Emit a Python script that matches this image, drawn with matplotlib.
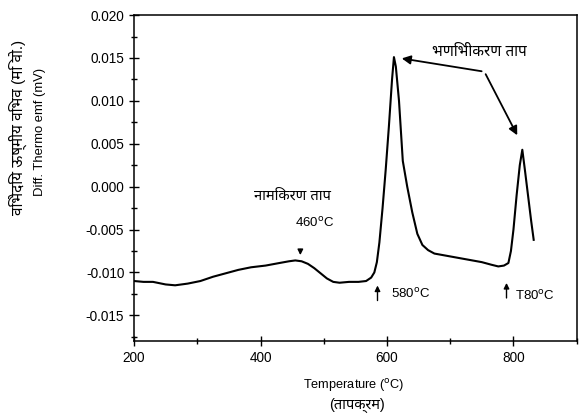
import matplotlib
matplotlib.use("Agg")
import matplotlib.pyplot as plt
from matplotlib.ticker import MultipleLocator

plt.rcParams["font.family"] = ["Liberation Sans", "Noto Sans", "DejaVu Sans"]

# DTA curve
temps = [200, 215, 230, 250, 265, 285, 305, 325, 345, 365, 385, 408, 430, 445,
         455, 465, 475, 485, 495, 505, 515, 525, 540, 555, 567, 575, 580, 584,
         588, 593, 598, 603, 608, 611, 614, 619, 625, 632, 640, 648, 656, 665,
         675, 690, 705, 720, 735, 750, 765, 776, 785, 792, 796, 800, 805, 810,
         814, 818, 823, 828, 832]
emf = [-0.0110, -0.0111, -0.0111, -0.0114, -0.0115, -0.0113, -0.0110, -0.0105,
       -0.0101, -0.0097, -0.0094, -0.0092, -0.0089, -0.0087, -0.0086, -0.0087,
       -0.0090, -0.0095, -0.0101, -0.0107, -0.0111, -0.0112, -0.0111, -0.0111,
       -0.0110, -0.0106, -0.0100, -0.0088, -0.0065, -0.0025, 0.0020, 0.0070,
       0.0125, 0.0151, 0.0140, 0.0100, 0.0030, 0.0000, -0.0030, -0.0055,
       -0.0068, -0.0074, -0.0078, -0.0080, -0.0082, -0.0084, -0.0086, -0.0088,
       -0.0091, -0.0093, -0.0092, -0.0089, -0.0075, -0.0050, -0.0010, 0.0025,
       0.0043, 0.0020, -0.0010, -0.0040, -0.0062]

xticks = [200, 400, 600, 800]
yticks = [-0.015, -0.010, -0.005, 0.000, 0.005, 0.010, 0.015, 0.020]

fig = plt.figure(figsize=(5.84, 4.19), dpi=100)
ax = fig.add_axes([0.2295, 0.186, 0.758, 0.778])

ax.plot(temps, emf, color="black", linewidth=1.5)

ax.set_xlim(200, 900)
ax.set_ylim(-0.018, 0.020)
ax.set_xticks(xticks)
ax.set_yticks(yticks)
ax.set_yticklabels([f"{v:.3f}" for v in yticks])
ax.xaxis.set_minor_locator(MultipleLocator(100))
ax.yaxis.set_minor_locator(MultipleLocator(0.0025))
ax.tick_params(which="both", direction="inout", labelsize=9.8, width=1)
ax.tick_params(which="major", length=7)
ax.tick_params(which="minor", length=5)
ax.tick_params(top=False, right=False)
for sp in ax.spines.values():
    sp.set_linewidth(1.1)

# axis titles, two lines each
fig.text(0.606, 0.081, "Temperature ($^{\\rm o}$C)", fontsize=9.2,
         ha="center", va="center")
fig.text(0.611, 0.033, "(तापक्रम)", fontsize=10.5, ha="center", va="center")
fig.text(0.031, 0.697, "विभेदिय ऊष्मीय विभव (मि वो.)", fontsize=11,
         rotation=90, ha="center", va="center")
fig.text(0.0685, 0.685, "Diff. Thermo emf (mV)", fontsize=9.4,
         rotation=90, ha="center", va="center")

big_arrow = dict(arrowstyle="-|>", color="black", lw=1.3, mutation_scale=13)
thin_arrow = dict(arrowstyle="-|>", color="black", lw=1.0, mutation_scale=8)

ax.text(451, -0.0011, "नामिकरण ताप", fontsize=10.6, ha="center", va="center")
ax.text(486, -0.0042, "460$^{\\rm o}$C", fontsize=9.5, ha="center", va="center")
ax.annotate("", xy=(463, -0.0083), xytext=(463, -0.0070), arrowprops=thin_arrow)

ax.text(607, -0.0125, "580$^{\\rm o}$C", fontsize=9.5, ha="left", va="center")
ax.annotate("", xy=(585, -0.0112), xytext=(585, -0.0136), arrowprops=thin_arrow)

ax.text(802, -0.0127, "T80$^{\\rm o}$C", fontsize=9.5, ha="left", va="center")
ax.annotate("", xy=(789, -0.0109), xytext=(789, -0.0133), arrowprops=thin_arrow)

ax.text(746, 0.0157, "भणिभीकरण ताप", fontsize=11, ha="center", va="center")
ax.annotate("", xy=(619, 0.0150), xytext=(754, 0.0134), arrowprops=big_arrow)
ax.annotate("", xy=(808, 0.0057), xytext=(754, 0.0134), arrowprops=big_arrow)

fig.savefig("out.png", dpi=100)
